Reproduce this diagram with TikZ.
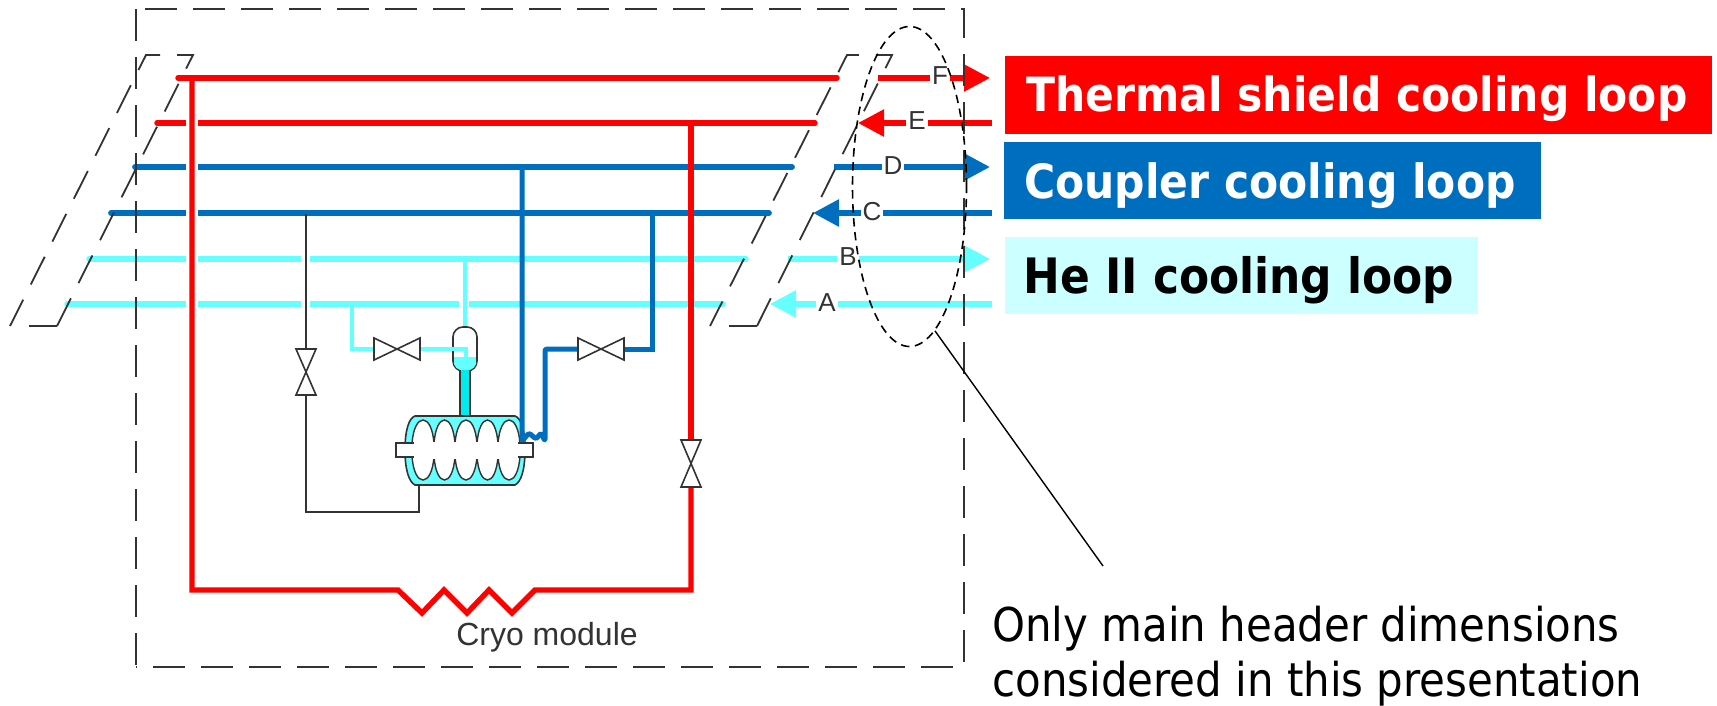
\documentclass[tikz,border=0pt]{standalone}
\usepackage{fontspec}
\usetikzlibrary{arrows.meta,shapes.geometric}
\setmainfont{Liberation Sans}
\newfontfamily\tah{DejaVu Sans Condensed}
\definecolor{cred}{RGB}{255,0,0}
\definecolor{cblue}{RGB}{0,110,190}
\definecolor{ccyan}{RGB}{102,255,255}
\definecolor{cdark}{RGB}{51,51,51}
\definecolor{cpale}{RGB}{204,255,255}
\definecolor{cneck}{RGB}{0,235,235}
\tikzset{
  redpipe/.style={draw=cred,line width=2.7pt},
  bluepipe/.style={draw=cblue,line width=2.9pt},
  cyanpipe/.style={draw=ccyan,line width=2.7pt},
  thinline/.style={draw=cdark,line width=0.8pt},
  valveshape/.style={draw=cdark,line width=0.8pt,fill=white,line join=miter},
  dashbox/.style={draw=cdark,line width=0.9pt,dash pattern=on 16pt off 8pt},
  para/.style={draw=cdark,line width=0.9pt,dash pattern=on 15.5pt off 8.5pt},
  flow/.style={-{Triangle[length=13pt,width=13pt]}},
  letter/.style={font=\fontsize{13}{13}\selectfont,text=cdark,fill=white,inner sep=1pt},
  bar/.style={anchor=west,font=\tah\bfseries\fontsize{23.6}{24}\selectfont,inner sep=0pt},
  note/.style={anchor=west,font=\tah\fontsize{23.3}{24}\selectfont,inner sep=0pt,text=black}
}
\begin{document}
\begin{tikzpicture}[x=0.5pt,y=-0.5pt]
\useasboundingbox (0,0) rectangle (1717,706);
% legend bars
\fill[cred] (1005,56) rectangle (1712,134);
\fill[cblue] (1004,142) rectangle (1541,219);
\fill[cpale] (1005,237) rectangle (1478,314);
\node[bar,text=white] (lt) at (1026,99) {Thermal shield cooling loop};
\node[bar,text=white] (lc) at (1024,186) {Coupler cooling loop};
\node[bar,text=black,font=\tah\bfseries\fontsize{24.4}{25}\selectfont] (lh) at (1023,280) {He II cooling loop};
% header coordinates
\coordinate (Fl) at (178,78);  \coordinate (Fr) at (837,78);  \coordinate (Fs) at (878,78);  \coordinate (Fe) at (990,78);
\coordinate (El) at (157,123); \coordinate (Er) at (815,123); \coordinate (Es) at (992,123); \coordinate (Ee) at (858,123);
\coordinate (Dl) at (135,167); \coordinate (Dr) at (792,167); \coordinate (Ds) at (834,167); \coordinate (De) at (990,167);
\coordinate (Cl) at (111,213); \coordinate (Cr) at (769,213); \coordinate (Cs) at (992,213); \coordinate (Ce) at (813,213);
\coordinate (Bl) at (89,259);  \coordinate (Br) at (746,259);  \coordinate (Bs) at (788,259); \coordinate (Be) at (990,259);
\coordinate (Al) at (67,304);  \coordinate (Ar) at (723,304);  \coordinate (As) at (992,304); \coordinate (Ae) at (770,304);
% cyan headers
\draw[cyanpipe,line cap=round] (Bl) -- (Br);
\draw[cyanpipe,line cap=round] (Al) -- (Ar);
\draw[cyanpipe,flow] (Bs) -- (Be);
\draw[cyanpipe,flow] (As) -- (Ae);
% blue headers
\draw[bluepipe,line cap=round] (Dl) -- (Dr);
\draw[bluepipe,line cap=round] (Cl) -- (Cr);
\draw[bluepipe,flow] (Ds) -- (De);
\draw[bluepipe,flow] (Cs) -- (Ce);
% red headers
\draw[redpipe,line cap=round] (Fl) -- (Fr);
\draw[redpipe,line cap=round] (El) -- (Er);
\draw[redpipe,flow] (Fs) -- (Fe);
\draw[redpipe,flow] (Es) -- (Ee);
% gaps at crossings
\foreach \yy in {123,167,213,259,304}{\fill[white] (186,\yy-5) rectangle (198,\yy+5);}
\foreach \yy in {259,304}{\fill[white] (301,\yy-5) rectangle (310,\yy+5);}
\fill[white] (459,299) rectangle (469,309);
% letters
\node[letter] (lF) at (940,76) {F};
\node[letter] (lE) at (917,121) {E};
\node[letter] (lD) at (893,166) {D};
\node[letter] (lC) at (872,212) {C};
\node[letter] (lB) at (848,257) {B};
\node[letter] (lA) at (827,303) {A};
% red loop
\coordinate (rv1) at (691,487);
\coordinate (rv2) at (691,440);
\draw[redpipe,line join=miter] (192,78) -- (192,590) -- (398,590) -- (422,613) -- (444,590) -- (467,613) -- (489,590) -- (512,613) -- (535,590) -- (691,590) -- (rv1);
\draw[redpipe] (rv2) -- (691,123);
\draw[valveshape] (681,440) -- (701,440) -- (681,487) -- (701,487) -- cycle;
% thin line with valve
\coordinate (tv1) at (306,349);
\coordinate (tv2) at (306,395);
\draw[thinline] (306,214) -- (tv1);
\draw[thinline] (tv2) -- (306,512) -- (419,512) -- (419,485);
\draw[valveshape] (296,349) -- (316,349) -- (296,395) -- (316,395) -- cycle;
% cyan branches
\draw[cyanpipe,line width=2.4pt] (465,259) -- (465,327);
\draw[cyanpipe,line width=2.4pt,line join=miter] (352,304) -- (352,349) -- (380,349);
% phase separator
\draw[draw=cdark,line width=0.8pt,fill=white,rounded corners=5pt] (453,371) -- (453,327) -- (477,327) -- (477,371) -- cycle;
\fill[ccyan,rounded corners=4pt] (454,357) -- (454,370) -- (476,370) -- (476,357) -- cycle;
\fill[ccyan] (454,357) rectangle (476,362);
\draw[cyanpipe,line width=2.4pt,line join=miter] (415,349) -- (466,349) -- (466,358);
% neck
\fill[cneck] (461,370) rectangle (469,416);
\draw[thinline,line width=0.6pt] (460,371) -- (460,416) (470,371) -- (470,416);
% cryomodule barrel
\draw[draw=cdark,line width=0.8pt,fill=ccyan] (415,416) -- (515,416) .. controls (521,418) and (525,430) .. (525,450) .. controls (525,470) and (521,482) .. (515,485) -- (415,485) .. controls (409,482) and (405,470) .. (405,450) .. controls (405,430) and (409,418) .. (415,416) -- cycle;
\foreach \a/\b in {412/434,434/455,455/477,477/498,498/520}{
  \draw[draw=cdark,line width=0.7pt,fill=white] (\a,444) .. controls (\a+2,412) and (\b-2,412) .. (\b,444);
  \draw[draw=cdark,line width=0.7pt,fill=white] (\a,456) .. controls (\a+2,488) and (\b-2,488) .. (\b,456);
}
\draw[draw=cdark,line width=0.8pt,fill=white] (396,443) rectangle (533,457);
\fill[white] (414,441.5) rectangle (518,458.5);
% blue branches
\draw[bluepipe,line join=round,line width=2.5pt,rounded corners=1pt] (522,167) -- (522,441) -- (529,433) -- (536,439) -- (541,433) -- (545,441) -- (545,349) -- (580,349);
\draw[bluepipe,line join=miter,line width=2.5pt] (622,349) -- (652,349) -- (652,213);
% horizontal valves
\draw[valveshape] (374,338) -- (374,360) -- (420,338) -- (420,360) -- cycle;
\draw[valveshape] (578,338) -- (578,360) -- (624,338) -- (624,360) -- cycle;
% dashed cryostat outline
\draw[dashbox] (145,9) -- (964,9) -- (964,667) -- (136,667);
\draw[dashbox] (136,9) -- (136,667);
% parallelogram breaks
\draw[draw=cdark,line width=0.9pt] (29,326) -- (57,326);
\draw[para] (57,326) -- (193,55) -- (146,55) -- (10,326);
\draw[draw=cdark,line width=0.9pt] (729,326) -- (757,326);
\draw[para] (757,326) -- (892,55) -- (847,55) -- (710,326);
% ellipse and leader
\node[draw=black,line width=0.8pt,dash pattern=on 4.2pt off 2.8pt,ellipse,minimum width=57pt,minimum height=160pt,inner sep=0pt] (ell) at (909.5,186.5) {};
\coordinate (ldB) at (1103,566);
\draw[black,line width=0.7pt] (ell.-80) -- (ldB);
% texts
\node[font=\fontsize{16}{16}\selectfont,text=cdark,inner sep=0pt] (cm) at (547,637) {Cryo module};
\node[note] (n1) at (992,629) {Only main header dimensions};
\node[note] (n2) at (992,684) {considered in this presentation};
\end{tikzpicture}
\end{document}
